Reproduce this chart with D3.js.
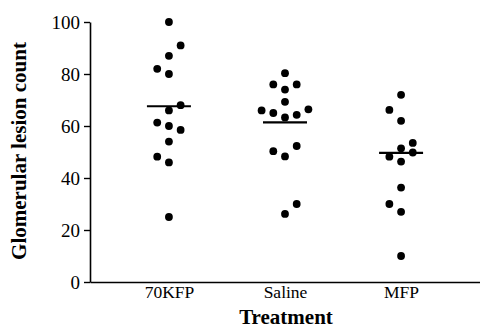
<!DOCTYPE html>
<html>
<head>
<meta charset="utf-8">
<script src="https://cdn.jsdelivr.net/npm/d3@7"></script>
<style>
  body { margin: 0; background: #fff; }
  svg { display: block; }
</style>
</head>
<body>
<div id="chart"></div>
<script>
// Data
const groups = ["70KFP", "Saline", "MFP"];

const kfpValues = [100, 91, 87, 82, 80, 68, 66, 61.3, 60, 58.5, 54, 48.2, 46, 25];
const kfpSlots  = [0, 1, 0, -1, 0, 1, 0, -1, 0, 1, 0, -1, 0, 0];

const salineValues = [80.3, 76, 76, 74, 69.3, 66, 65, 63.3, 64.3, 66.4, 52.3, 50.3, 48.3, 30, 26.2];
const salineSlots  = [0, -1, 1, 0, 0, -2, -1, 0, 1, 2, 1, -1, 0, 1, 0];

const mfpValues = [72, 66.2, 62, 53.5, 51.4, 49.8, 48.2, 46.3, 36.3, 30, 27, 10];
const mfpSlots  = [0, -1, 0, 1, 0, 1, -1, 0, 0, -1, 0, 0];

const groupMeans = [67.6, 61.4, 49.7];
const yTicks = [0, 20, 40, 60, 80, 100];

const points = []
  .concat(kfpValues.map((v, i) => ({ group: "70KFP", value: v, slot: kfpSlots[i] })))
  .concat(salineValues.map((v, i) => ({ group: "Saline", value: v, slot: salineSlots[i] })))
  .concat(mfpValues.map((v, i) => ({ group: "MFP", value: v, slot: mfpSlots[i] })));

const W = 480, H = 329;
const svg = d3.select("#chart").append("svg")
  .attr("width", W)
  .attr("height", H);

const x = d3.scalePoint()
  .domain(groups)
  .range([90, 480])
  .padding(0.68);

const slot = d3.scaleLinear().domain([-2, 2]).range([-23.4, 23.4]);

const y = d3.scaleLinear()
  .domain([0, 100])
  .range([282, 22]);

const serif = "'Liberation Serif', 'Times New Roman', serif";

// y axis
const yAxis = svg.append("g")
  .attr("transform", "translate(90,0)")
  .call(d3.axisLeft(y).tickValues(yTicks).tickSize(6).tickPadding(4).tickSizeOuter(0));
yAxis.select(".domain").attr("stroke", "#000").attr("stroke-width", 1.6);
yAxis.selectAll(".tick line").attr("stroke", "#000").attr("stroke-width", 1.4);
yAxis.selectAll("text")
  .attr("font-family", serif)
  .attr("font-size", 19)
  .attr("fill", "#000");

// x axis
const xAxis = svg.append("g")
  .attr("transform", "translate(0,282)")
  .call(d3.axisBottom(x).tickSize(0).tickPadding(4).tickSizeOuter(0));
xAxis.select(".domain").attr("stroke", "#000").attr("stroke-width", 1.6);
xAxis.selectAll("text")
  .attr("font-family", serif)
  .attr("font-size", 17.5)
  .attr("fill", "#000");

// mean lines
svg.append("g").selectAll("line")
  .data(groups)
  .join("line")
  .attr("x1", d => x(d) - 22)
  .attr("x2", d => x(d) + 22)
  .attr("y1", (d, i) => y(groupMeans[i]))
  .attr("y2", (d, i) => y(groupMeans[i]))
  .attr("stroke", "#000")
  .attr("stroke-width", 2.2);

// points
svg.append("g").selectAll("circle")
  .data(points)
  .join("circle")
  .attr("cx", d => x(d.group) + slot(d.slot))
  .attr("cy", d => y(d.value))
  .attr("r", 3.9)
  .attr("fill", "#000");

// axis titles
svg.append("text")
  .attr("x", 286)
  .attr("y", 324)
  .attr("text-anchor", "middle")
  .attr("font-family", serif)
  .attr("font-weight", "bold")
  .attr("font-size", 21)
  .text("Treatment");

svg.append("text")
  .attr("transform", "translate(26,151) rotate(-90)")
  .attr("text-anchor", "middle")
  .attr("font-family", serif)
  .attr("font-weight", "bold")
  .attr("font-size", 21)
  .text("Glomerular lesion count");
</script>
</body>
</html>
